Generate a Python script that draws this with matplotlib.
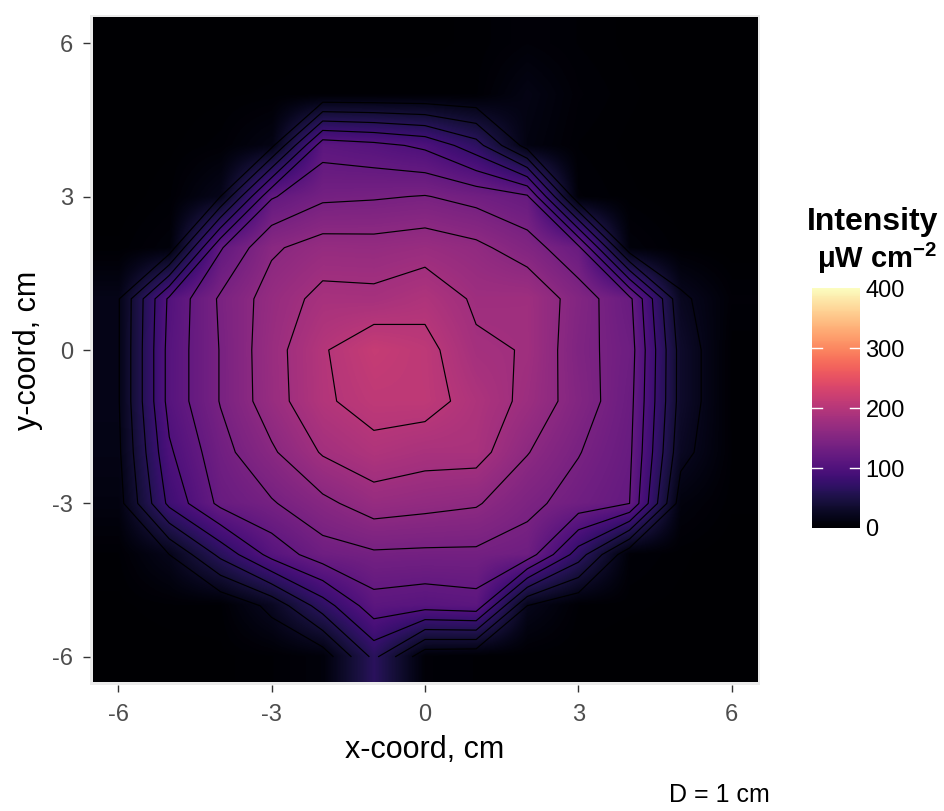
import numpy as np
import matplotlib
matplotlib.use("Agg")
import matplotlib.pyplot as plt
from matplotlib.transforms import blended_transform_factory
from matplotlib.colors import Normalize
from matplotlib.cm import ScalarMappable

plt.rcParams["font.family"] = ["Liberation Sans", "DejaVu Sans"]
plt.rcParams["mathtext.fontset"] = "custom"
plt.rcParams["mathtext.rm"] = "Liberation Sans"
plt.rcParams["mathtext.bf"] = "Liberation Sans:bold"

# measurement grid, 1 cm spacing
x_coords = [-6, -5, -4, -3, -2, -1, 0, 1, 2, 3, 4, 5, 6]
y_coords = [-6, -5, -4, -3, -2, -1, 0, 1, 2, 3, 4, 5, 6]

# intensity, uW cm^-2; one row per y (from y = -6 up to y = 6), columns follow x_coords
row_m6 = [0, 0, 1, 3, 8, 65, 5, 3, 2, 1, 0, 0, 0]
row_m5 = [1, 3, 3, 25, 70, 112, 108, 112, 20, 3, 2, 1, 0]
row_m4 = [3, 20, 65, 107, 131, 137, 136, 136, 131, 70, 5, 2, 0]
row_m3 = [12, 85, 125, 138, 155, 170, 166, 162, 145, 132, 120, 10, 2]
row_m2 = [16, 97, 133, 157, 182, 194, 188, 188, 161, 141, 124, 26, 3]
row_m1 = [18, 107, 141, 171, 197, 208, 208, 192, 175, 150, 127, 32, 2]
row_0 = [18, 107, 141, 172, 198, 215, 207, 183, 179, 147, 130, 32, 2]
row_p1 = [18, 104, 143, 169, 186, 185, 193, 177, 178, 150, 125, 24, 5]
row_p2 = [2, 8, 118, 157, 169, 168, 172, 165, 149, 125, 8, 2, 0]
row_p3 = [0, 3, 20, 118, 136, 138, 141, 133, 123, 5, 2, 0, 0]
row_p4 = [0, 1, 4, 15, 112, 106, 96, 68, 12, 3, 1, 0, 0]
row_p5 = [0, 0, 1, 2, 3, 3, 3, 3, 15, 5, 2, 0, 0]
row_p6 = [0, 0, 0, 0, 1, 1, 1, 2, 6, 3, 1, 0, 0]

contour_levels = [20, 40, 60, 80, 100, 120, 140, 160, 180, 200]
fill_limits = (0, 400)
bar_ticks = [0, 100, 200, 300, 400]
axis_ticks = [-6, -3, 0, 3, 6]

Z = np.array([row_m6, row_m5, row_m4, row_m3, row_m2, row_m1, row_0,
              row_p1, row_p2, row_p3, row_p4, row_p5, row_p6], dtype=float)
X, Y = np.meshgrid(x_coords, y_coords)

# raster: bilinear interpolation between cell centres, edges held constant
n_fine = 700
xf = np.linspace(x_coords[0] - 0.5, x_coords[-1] + 0.5, n_fine)
yf = np.linspace(y_coords[0] - 0.5, y_coords[-1] + 0.5, n_fine)
along_x = np.array([np.interp(xf, x_coords, Z[r, :]) for r in range(len(y_coords))])
smooth = np.array([np.interp(yf, y_coords, along_x[:, j]) for j in range(n_fine)]).T

W, H = 945, 811
fig = plt.figure(figsize=(W / 100, H / 100), dpi=100)
fig.patch.set_facecolor("white")

px_l, px_r, px_t, px_b = 90, 760, 15, 685
ax = fig.add_axes([px_l / W, 1 - px_b / H, (px_r - px_l) / W, (px_b - px_t) / H])
ax.set_facecolor("#EBEBEB")

norm = Normalize(*fill_limits)
cmap = plt.get_cmap("magma")
ax.imshow(smooth, extent=[xf[0], xf[-1], yf[0], yf[-1]], origin="lower",
          cmap=cmap, norm=norm, interpolation="antialiased", aspect="auto")
ax.contour(X, Y, Z, levels=contour_levels, colors="black", linewidths=0.85)

ax.set_xlim(-6.55, 6.55)
ax.set_ylim(-6.55, 6.55)
for s in ax.spines.values():
    s.set_visible(False)
ax.set_xticks(axis_ticks)
ax.set_yticks(axis_ticks)
ax.set_xticklabels([str(t) for t in axis_ticks])
ax.set_yticklabels([str(t) for t in axis_ticks])
ax.tick_params(axis="both", length=5, width=1, color="#333333",
               labelcolor="#4D4D4D", labelsize=17)
ax.tick_params(axis="x", pad=9)
ax.tick_params(axis="y", pad=7)
ax.set_xlabel("x-coord, cm", fontsize=22, color="black", labelpad=6)
ax.set_ylabel("y-coord, cm", fontsize=22, color="black", labelpad=7)

# colour bar
sm = ScalarMappable(norm=norm, cmap=cmap)
cax = fig.add_axes([812 / W, 1 - 528 / H, 48 / W, 240 / H])
cb = fig.colorbar(sm, cax=cax, ticks=bar_ticks)
cb.outline.set_visible(False)
cax.tick_params(length=0, labelsize=17, labelcolor="black", pad=4)
tr = blended_transform_factory(cax.transAxes, cax.transData)
for v in bar_ticks[1:-1]:
    cax.plot([0, 0.2], [v, v], color="white", lw=1, transform=tr)
    cax.plot([0.8, 1], [v, v], color="white", lw=1, transform=tr)

fig.text(807 / W, 1 - 222 / H, "Intensity", fontsize=23, fontweight="bold",
         ha="left", va="center")
fig.text(817 / W, 1 - 258 / H, r"μW cm$^{\mathbf{-2}}$", fontsize=21,
         fontweight="bold", ha="left", va="center")
fig.text(770 / W, 1 - 795 / H, "D = 1 cm", fontsize=18, ha="right", va="center")

fig.savefig("out.png", dpi=100)
